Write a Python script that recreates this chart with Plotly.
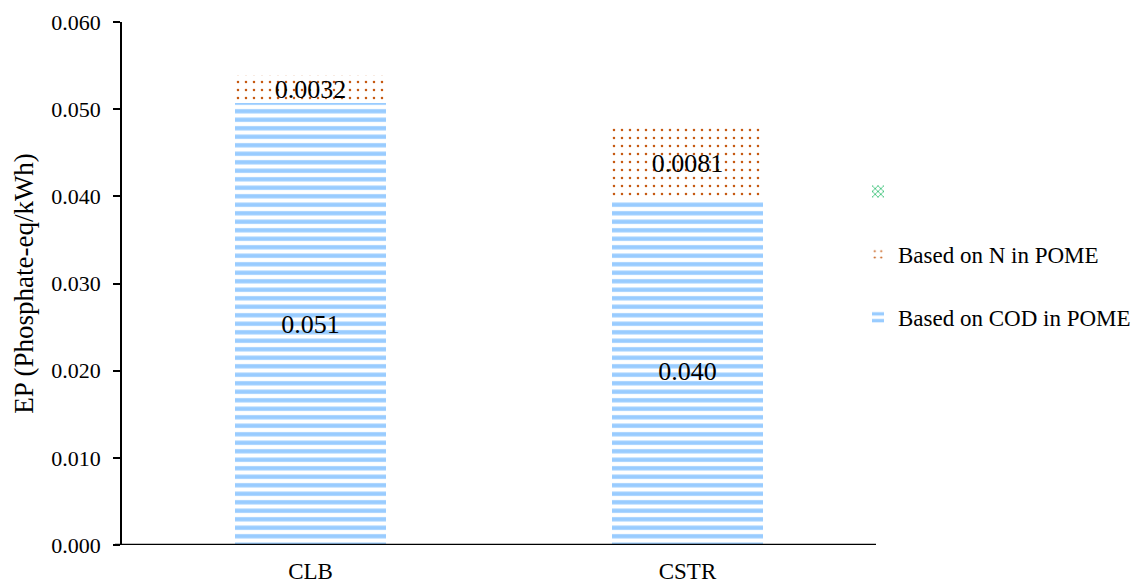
import plotly.graph_objects as go

# Eutrophication potential per kWh for each digester type
categories = ["CLB", "CSTR"]
ep_cod = [0.0507, 0.0397]     # based on COD in POME
ep_n = [0.0032, 0.0081]       # based on N in POME
ep_other = [0.0, 0.0]         # unnamed series (legend only)

y_ticks = [0.0, 0.01, 0.02, 0.03, 0.04, 0.05, 0.06]

FONT = "Times New Roman, Liberation Serif, serif"
BLUE = "#99CCFF"
ORANGE = "#C65911"
GREEN = "#00B050"

# plot-area geometry in pixels
W, H = 1142, 584
L, R, T, B = 122, 266, 22, 39
plot_w = W - L - R

fig = go.Figure()

fig.add_trace(go.Bar(
    x=categories, y=ep_cod, name="Based on COD in POME",
    width=0.4, legendrank=3, legendgroup="cod",
    marker=dict(color="white", line=dict(width=0),
                pattern=dict(shape="-", fgcolor=BLUE, bgcolor="white",
                             size=8.5, solidity=0.5, fillmode="replace")),
    texttemplate="%{y:.3f}", textposition="inside",
    insidetextanchor="middle", constraintext="none",
    textfont=dict(family=FONT, size=26, color="black"),
    hoverinfo="skip",
))
fig.add_trace(go.Bar(
    x=categories, y=ep_n, name="Based on N in POME",
    width=0.4, legendrank=2, legendgroup="n",
    marker=dict(color="white", line=dict(width=0),
                pattern=dict(shape=".", fgcolor=ORANGE, bgcolor="white",
                             size=8, solidity=0.08, fillmode="replace")),
    texttemplate="%{y:.4f}", textposition="inside",
    insidetextanchor="middle", constraintext="none",
    textfont=dict(family=FONT, size=26, color="black"),
    hoverinfo="skip",
))
fig.add_trace(go.Bar(
    x=categories, y=ep_other, name=" ",
    width=0.4, legendrank=1, legendgroup="other",
    marker=dict(color="white", line=dict(width=0),
                pattern=dict(shape="x", fgcolor=GREEN, bgcolor="white",
                             size=5, solidity=0.3, fillmode="replace")),
    texttemplate="", hoverinfo="skip",
))

# x-axis baseline, extending slightly left of the value axis
fig.add_shape(type="line", xref="paper", yref="y",
              x0=-7 / plot_w, x1=1, y0=0, y1=0,
              line=dict(color="black", width=2.5))

fig.update_layout(
    width=W, height=H,
    margin=dict(l=L, r=R, t=T, b=B, pad=0, autoexpand=False),
    barmode="stack",
    paper_bgcolor="white", plot_bgcolor="white",
    font=dict(family=FONT, color="black", size=22),
    showlegend=True,
    legend=dict(
        x=(858 - L) / plot_w, xanchor="left",
        y=1 - (170 - T) / (H - T - B), yanchor="top",
        traceorder="grouped", tracegroupgap=30,
        font=dict(family=FONT, size=23, color="black"),
        bgcolor="rgba(0,0,0,0)", borderwidth=0, itemwidth=30,
    ),
    xaxis=dict(
        showline=False, showgrid=False, zeroline=False,
        ticks="", ticklabelstandoff=10, automargin=False,
        tickfont=dict(family=FONT, size=23, color="black"),
        range=[-0.5, 1.5],
    ),
    yaxis=dict(
        range=[0, 0.06], tickvals=y_ticks, tickformat=".3f",
        showline=True, linecolor="black", linewidth=1.5,
        showgrid=False, zeroline=False, automargin=False,
        ticks="outside", ticklen=7, tickwidth=1.5, tickcolor="black",
        ticklabelstandoff=8,
        tickfont=dict(family=FONT, size=22, color="black"),
        title=dict(text="EP (Phosphate-eq/kWh)",
                   font=dict(family=FONT, size=27, color="black"),
                   standoff=10),
    ),
)

fig.write_html("out.html")
